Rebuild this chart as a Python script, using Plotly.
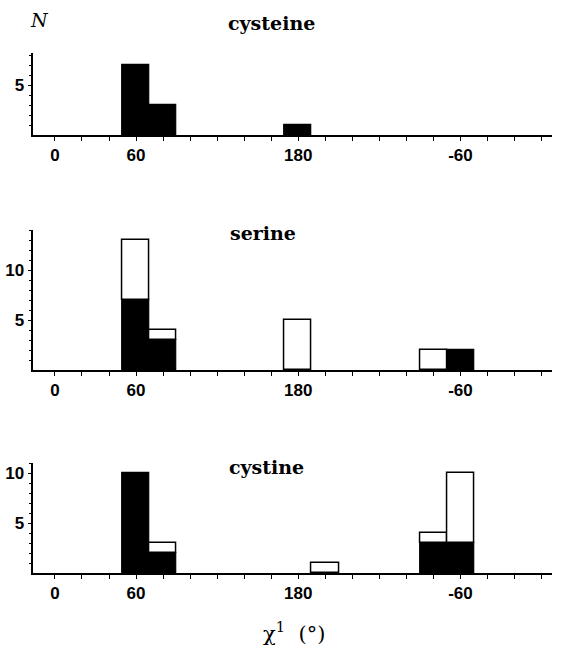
import plotly.graph_objects as go

# Bin centres (degrees, 0..360; 300 is labelled -60)
cys_centers = [60, 80, 180]
cys_black = [7, 3, 1]
cys_total = [7, 3, 1]

ser_centers = [60, 80, 180, 280, 300]
ser_black = [7, 3, 0, 0, 2]
ser_total = [13, 4, 5, 2, 2]

cyst_centers = [60, 80, 200, 280, 300]
cyst_black = [10, 2, 0, 3, 3]
cyst_total = [10, 3, 1, 4, 10]

panel_names = ["cysteine", "serine", "cystine"]

x_tickvals = [0, 60, 180, 300]
x_ticktext = ["0", "60", "180", "-60"]
x_minor_vals = list(range(0, 361, 20))

bin_width = 20

W, H = 564, 648
fig = go.Figure()

panels = [
    (cys_centers, cys_black, cys_total, 8.2, (53, 135)),
    (ser_centers, ser_black, ser_total, 14, (230, 370)),
    (cyst_centers, cyst_black, cyst_total, 11, (463, 573.3)),
]

tick_font = dict(family="Liberation Sans", size=17, color="black", weight="bold")
x_dom = [33.3 / W, 552.4 / W]
for i, (cen, blk, tot, ymax, (ytop, ybot)) in enumerate(panels):
    n = i + 1
    xa = "x" if n == 1 else f"x{n}"
    ya = "y" if n == 1 else f"y{n}"
    white = [t - b for t, b in zip(tot, blk)]
    bx = [c for c, b in zip(cen, blk) if b > 0]
    by = [b for b in blk if b > 0]
    fig.add_trace(go.Bar(x=bx, y=by, base=[0] * len(bx), width=bin_width,
                         marker=dict(color="black", line=dict(color="black", width=1.2)),
                         xaxis=xa, yaxis=ya, showlegend=False))
    wx = [c for c, w in zip(cen, white) if w > 0]
    wy = [w for w in white if w > 0]
    wb = [b for b, w in zip(blk, white) if w > 0]
    fig.add_trace(go.Bar(x=wx, y=wy, base=wb, width=bin_width,
                         marker=dict(color="white", line=dict(color="black", width=1.5)),
                         xaxis=xa, yaxis=ya, showlegend=False))
    xk = "xaxis" if n == 1 else f"xaxis{n}"
    yk = "yaxis" if n == 1 else f"yaxis{n}"
    dom = [1 - ybot / H, 1 - ytop / H]
    fig.layout[xk] = dict(domain=x_dom, range=[-16, 368], anchor=ya, automargin=False,
                          tickvals=x_tickvals, ticktext=x_ticktext,
                          ticks="outside", ticklen=4, tickwidth=1, tickcolor="black",
                          minor=dict(tickvals=x_minor_vals, ticks="outside", ticklen=4,
                                     tickwidth=1, tickcolor="black", showgrid=False),
                          showline=True, linecolor="black", linewidth=1.5,
                          showgrid=False, zeroline=False, tickfont=tick_font)
    ytv = [v for v in range(5, int(ymax) + 1, 5)]
    ymin_vals = list(range(1, int(ymax) + 1))
    fig.layout[yk] = dict(domain=dom, range=[0, ymax], anchor=xa, automargin=False,
                          tickvals=ytv, ticktext=[str(v) for v in ytv],
                          ticks="outside", ticklen=4, tickwidth=1, tickcolor="black",
                          minor=dict(tickvals=ymin_vals, ticks="outside", ticklen=3,
                                     tickwidth=1, tickcolor="black", showgrid=False),
                          showline=True, linecolor="black", linewidth=1.5,
                          showgrid=False, zeroline=False, tickfont=tick_font)

annots = [
    dict(text="cysteine", x=271, y=23),
    dict(text="serine", x=263, y=233),
    dict(text="cystine", x=266, y=467),
]
for a in annots:
    fig.add_annotation(text=a["text"], xref="paper", yref="paper",
                       x=a["x"] / W, y=1 - a["y"] / H, showarrow=False,
                       xanchor="center", yanchor="middle",
                       font=dict(family="DejaVu Serif", size=19, color="black", weight="bold"))

fig.add_annotation(text="<i>N</i>", xref="paper", yref="paper", x=39 / W, y=1 - 20 / H,
                   showarrow=False, xanchor="center", yanchor="middle",
                   font=dict(family="DejaVu Serif", size=19, color="black"))
fig.add_annotation(text="χ<sup>1</sup>  (°)", xref="paper", yref="paper", x=294 / W, y=1 - 632 / H,
                   showarrow=False, xanchor="center", yanchor="middle",
                   font=dict(family="DejaVu Serif", size=21, color="black"))

fig.update_layout(width=W, height=H, margin=dict(l=0, r=0, t=0, b=0, pad=0),
                  paper_bgcolor="white", plot_bgcolor="white", barmode="overlay",
                  bargap=0)

fig.write_html("out.html")
